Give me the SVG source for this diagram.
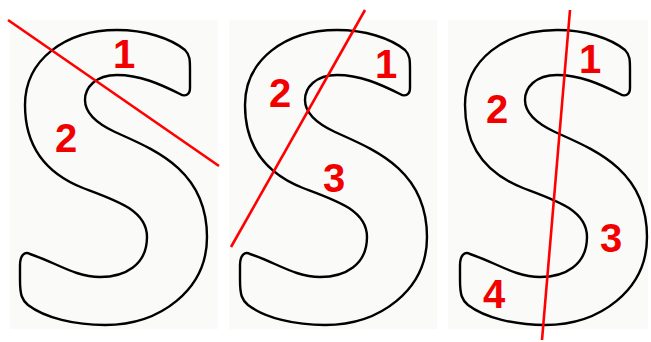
<svg xmlns="http://www.w3.org/2000/svg" width="651" height="342" viewBox="0 0 651 342">
<style>
.bg{fill:#fafaf9}
.s{fill:none;stroke:#000;stroke-width:2.4;stroke-linejoin:round}
.cut{stroke:#f00;stroke-width:2.6;stroke-linecap:butt}
.n{font-family:"Liberation Sans",Arial,sans-serif;font-weight:bold;font-size:40px;fill:#f20000;text-anchor:middle}
</style>
<defs>
<path id="S" d="M30,254 C55,262 75,277 100,277 C125,277 147,265 147,237 C147,210 115,200 83,188 C50,175 25,150 25,105 C25,60 65,30 117,30 C145,30 170,38 185,50 C190,55 190,60 190,70 L190,88 C190,95 185,97 180,94 C160,84 140,75 117,75 C95,75 85,88 85,100 C85,115 100,125 115,132 C155,150 207,170 207,237 C207,290 160,325 105,325 C75,325 45,318 28,305 C22,300 20,295 20,280 L20,265 C20,255 25,251 30,254 Z"/>
</defs>
<rect width="651" height="342" fill="#fff"/>
<g id="panel1">
<rect class="bg" x="10" y="20" width="208" height="309"/>
<use href="#S" class="s"/>
<line class="cut" x1="8" y1="20" x2="219" y2="166"/>
<text class="n" x="124" y="68">1</text>
<text class="n" x="66" y="152">2</text>
</g>
<g id="panel2">
<rect class="bg" x="229" y="20" width="208" height="309"/>
<use href="#S" class="s" transform="translate(220,0)"/>
<line class="cut" x1="365" y1="10" x2="231" y2="247"/>
<text class="n" x="386" y="78">1</text>
<text class="n" x="280" y="107">2</text>
<text class="n" x="334" y="192">3</text>
</g>
<g id="panel3">
<rect class="bg" x="448" y="20" width="200" height="309"/>
<use href="#S" class="s" transform="translate(440,0)"/>
<line class="cut" x1="570" y1="10" x2="542" y2="340"/>
<text class="n" x="590" y="73">1</text>
<text class="n" x="497" y="123">2</text>
<text class="n" x="611" y="252">3</text>
<text class="n" x="494" y="308">4</text>
</g>
</svg>
